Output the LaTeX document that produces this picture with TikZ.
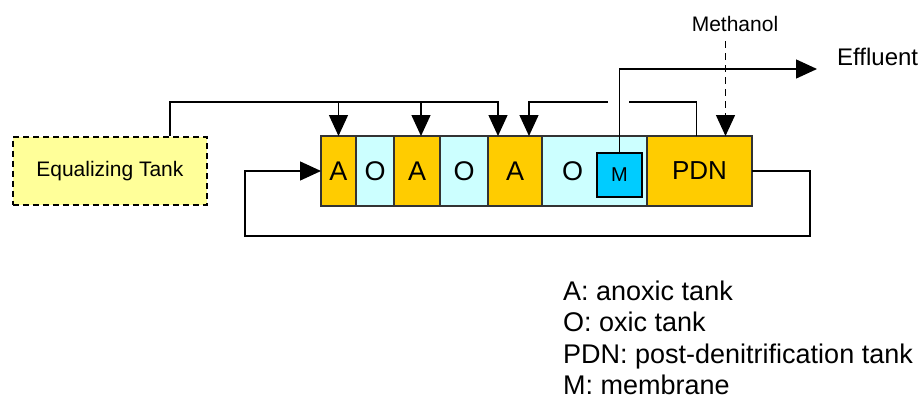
\documentclass[tikz,border=0pt]{standalone}
\usepackage{fontspec}
\setmainfont{Liberation Sans}
\usetikzlibrary{positioning, arrows.meta, calc}
\definecolor{anoxic}{RGB}{255,204,0}
\definecolor{oxic}{RGB}{204,255,255}
\definecolor{membr}{RGB}{0,204,255}
\definecolor{eqtank}{RGB}{255,255,153}
\definecolor{wall}{RGB}{51,51,51}
\newcommand{\px}[1]{\fontsize{#1}{#1}\selectfont}

\begin{document}
\begin{tikzpicture}[x=1pt, y=-1pt,
  tank/.style={draw=wall, line width=1.4pt, inner sep=0pt, outer sep=0pt, minimum height=70pt, font=\px{27}},
  tankA/.style={tank, fill=anoxic},
  tankO/.style={tank, fill=oxic},
  flow/.style={line width=1.4pt, -{Triangle[length=21pt, width=19pt]}},
  pipe/.style={line width=1.4pt},
  key/.style={anchor=base west, inner sep=0pt, font=\px{27}}]
  \useasboundingbox (0,0) rectangle (924,400);

  % tanks in a row
  \node[tankA, minimum width=35pt, anchor=north west] (A1) at (321,136) {A};
  \node[tankO, minimum width=38pt, right=0pt of A1] (O1) {O};
  \node[tankA, minimum width=46pt, right=0pt of O1] (A2) {A};
  \node[tankO, minimum width=48pt, right=0pt of A2] (O2) {O};
  \node[tankA, minimum width=54pt, right=0pt of O2] (A3) {A};
  \node[tankO, minimum width=105pt, right=0pt of A3] (O3) {};
  \node[tankA, minimum width=105pt, right=0pt of O3, font=\px{26}] (PDN) {PDN};
  \node[font=\px{27}] (O3txt) at ([xshift=-22pt]O3.center) {O};
  \node[draw, line width=1.4pt, fill=membr, minimum width=45pt, minimum height=44pt, inner sep=0pt, font=\px{20}] (M) at (619.5,175) {M};

  \node[draw, dashed, dash pattern=on 6pt off 4pt, line width=1.8pt, fill=eqtank, minimum width=194pt, minimum height=68pt, inner sep=0pt, anchor=north west, font=\px{21}] (EQ) at (12,136) {Equalizing Tank};

  \node[font=\px{21}] (meth) at (735,24) {Methanol};
  \node[font=\px{24}, anchor=west, inner sep=0pt] (eff) at (837,57) {Effluent};
  \coordinate (feed) at (0,102);
  \coordinate (effend) at (817,69);
  \coordinate (ret) at (810,236);

  % step feed from equalizing tank
  \draw[flow] ([xshift=-38pt]EQ.north east) |- ([xshift=-17pt]A3.north |- feed) -- ([xshift=-17pt]A3.north);
  \draw[flow] (A1.north |- feed) -- (A1.north);
  \draw[flow] ([xshift=4pt]A2.north |- feed) -- ([xshift=4pt]A2.north);

  % internal recycle
  \draw[pipe] ([xshift=-3pt]PDN.north) |- ([xshift=9pt]M.north |- feed);
  \draw[flow] ([xshift=-12pt]M.north |- feed) -| ([xshift=14pt]A3.north);

  % effluent and methanol
  \draw[flow] (M.north) |- (effend);
  \draw[flow, dashed, dash pattern=on 7pt off 5pt] ([xshift=26pt]PDN.north |- meth.south) ++(0,6) -- ([xshift=26pt]PDN.north);

  % return sludge
  \draw[flow] (PDN.east) -| (ret) -| ([xshift=-76pt]A1.west) -- (A1.west);

  % legend
  \node[key] (keyA) at (563,300) {A: anoxic tank};
  \node[key] (keyO) at ([yshift=-31.5pt]keyA.base west) {O: oxic tank};
  \node[key] (keyP) at ([yshift=-31.5pt]keyO.base west) {PDN: post-denitrification tank};
  \node[key] (keyM) at ([yshift=-31.5pt]keyP.base west) {M: membrane};
\end{tikzpicture}
\end{document}
